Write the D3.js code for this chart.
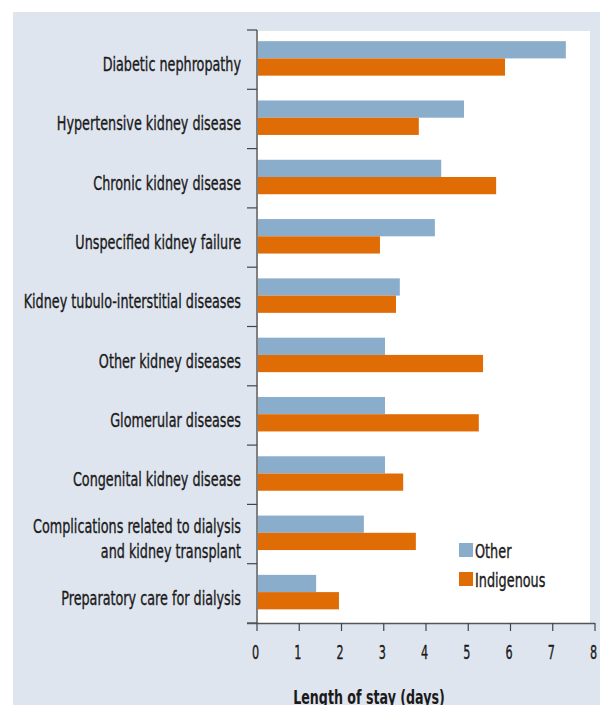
<!DOCTYPE html>
<html>
<head>
<meta charset="utf-8">
<script src="https://cdn.jsdelivr.net/npm/d3@7"></script>
<style>
  html, body { margin: 0; padding: 0; background: #ffffff; }
  svg { display: block; }
  text { font-family: "DejaVu Sans Condensed", "Liberation Sans Narrow", "Roboto", sans-serif; fill: #1a1a1a; }
  text.heavy { stroke: #1a1a1a; stroke-width: 0.35px; }
</style>
</head>
<body>
<svg id="chart" width="600" height="705"></svg>
<script>
// Average length of stay for kidney-related hospitalisations, by Indigenous status
const categories = [
  "Diabetic nephropathy",
  "Hypertensive kidney disease",
  "Chronic kidney disease",
  "Unspecified kidney failure",
  "Kidney tubulo-interstitial diseases",
  "Other kidney diseases",
  "Glomerular diseases",
  "Congenital kidney disease",
  "Complications related to dialysis\nand kidney transplant",
  "Preparatory care for dialysis"
];
const seriesNames = ["Other", "Indigenous"];
const otherValues      = [7.31, 4.90, 4.36, 4.21, 3.38, 3.03, 3.03, 3.03, 2.53, 1.40];
const indigenousValues = [5.87, 3.83, 5.66, 2.91, 3.29, 5.35, 5.25, 3.46, 3.76, 1.94];
const xTicks = [0, 1, 2, 3, 4, 5, 6, 7, 8];
const xTitle = "Length of stay (days)";

const colors = { Other: "#8aadcb", Indigenous: "#e06c05" };

const rows = categories.map((c, i) => ({
  category: c,
  values: [
    { series: "Other", value: otherValues[i] },
    { series: "Indigenous", value: indigenousValues[i] }
  ]
}));

const svg = d3.select("#chart");
const W = 600, H = 705;
const plot = { left: 257, right: 590, top: 30, bottom: 623 };

// panel background
svg.append("rect").attr("x", 13).attr("y", 12).attr("width", W - 13).attr("height", H - 12)
  .attr("fill", "#dfe5ef");

// white plotting area
svg.append("rect").attr("x", plot.left).attr("y", plot.top + 1)
  .attr("width", plot.right - plot.left).attr("height", plot.bottom - plot.top - 1)
  .attr("fill", "#ffffff");

const x = d3.scaleLinear().domain([0, 8]).range([257, 595]);
const y = d3.scaleBand().domain(categories).range([plot.top, plot.bottom]).padding(0);
const ySub = d3.scaleBand().domain(seriesNames).range([0, y.bandwidth()])
  .paddingInner(0).paddingOuter(0.72).align(0.45);

// condensed text helper: squeeze glyphs horizontally
function condense(sel, factor) {
  sel.each(function () {
    const len = this.getComputedTextLength();
    if (len > 0) d3.select(this).attr("textLength", len * factor).attr("lengthAdjust", "spacingAndGlyphs");
  });
}

// bars
const groups = svg.append("g").selectAll("g").data(rows).join("g")
  .attr("transform", d => `translate(0,${y(d.category)})`);
groups.selectAll("rect").data(d => d.values).join("rect")
  .attr("x", x(0))
  .attr("y", d => ySub(d.series))
  .attr("width", d => x(d.value) - x(0))
  .attr("height", ySub.bandwidth())
  .attr("fill", d => colors[d.series]);

// category axis
const yAxisG = svg.append("g");
yAxisG.append("line").attr("x1", x(0)).attr("x2", x(0))
  .attr("y1", plot.top).attr("y2", plot.bottom)
  .attr("stroke", "#808080").attr("stroke-width", 2);
const boundaries = categories.map(c => y(c)).concat([plot.bottom]);
yAxisG.selectAll("line.tick").data(boundaries).join("line").attr("class", "tick")
  .attr("x1", x(0) - 10).attr("x2", x(0))
  .attr("y1", d => d).attr("y2", d => d)
  .attr("stroke", "#444").attr("stroke-width", 1.2);

const catLabels = yAxisG.selectAll("text.cat").data(categories).join("text")
  .attr("class", "cat heavy")
  .attr("text-anchor", "end")
  .attr("font-size", 20);
catLabels.each(function (d) {
  const lines = d.split("\n");
  const t = d3.select(this);
  const base = y(d) + y.bandwidth() / 2 + 11.5;
  const lh = 25;
  lines.forEach((ln, i) => {
    t.append("tspan").attr("x", 241)
      .attr("y", base + (i - (lines.length - 1) / 2) * lh)
      .text(ln);
  });
});
yAxisG.selectAll("tspan").call(condense, 0.71);

// value axis
const xAxisG = svg.append("g");
xAxisG.append("line").attr("x1", 247).attr("x2", x(8))
  .attr("y1", plot.bottom + 0.5).attr("y2", plot.bottom + 0.5)
  .attr("stroke", "#555").attr("stroke-width", 1.5);
xAxisG.selectAll("line.xt").data(xTicks).join("line").attr("class", "xt")
  .attr("x1", d => x(d)).attr("x2", d => x(d))
  .attr("y1", plot.bottom).attr("y2", plot.bottom + 8)
  .attr("stroke", "#444").attr("stroke-width", 1.2);
xAxisG.selectAll("text.xl").data(xTicks).join("text").attr("class", "xl heavy")
  .attr("x", d => x(d) - 1.5).attr("y", 659)
  .attr("text-anchor", "middle").attr("font-size", 19.5)
  .text(d => d)
  .call(condense, 0.64);

svg.append("text").attr("x", 369).attr("y", 703.5)
  .attr("text-anchor", "middle").attr("font-size", 19).attr("font-weight", "bold")
  .text(xTitle).call(condense, 0.74);

// legend
const legend = svg.append("g");
seriesNames.forEach((s, i) => {
  const ly = 543 + i * 29;
  legend.append("rect").attr("x", 459).attr("y", ly).attr("width", 14).attr("height", 14)
    .attr("fill", colors[s]);
  legend.append("text").attr("class", "heavy").attr("x", 475).attr("y", ly + 15)
    .attr("font-size", 19).text(s).call(condense, 0.75);
});
</script>
</body>
</html>
